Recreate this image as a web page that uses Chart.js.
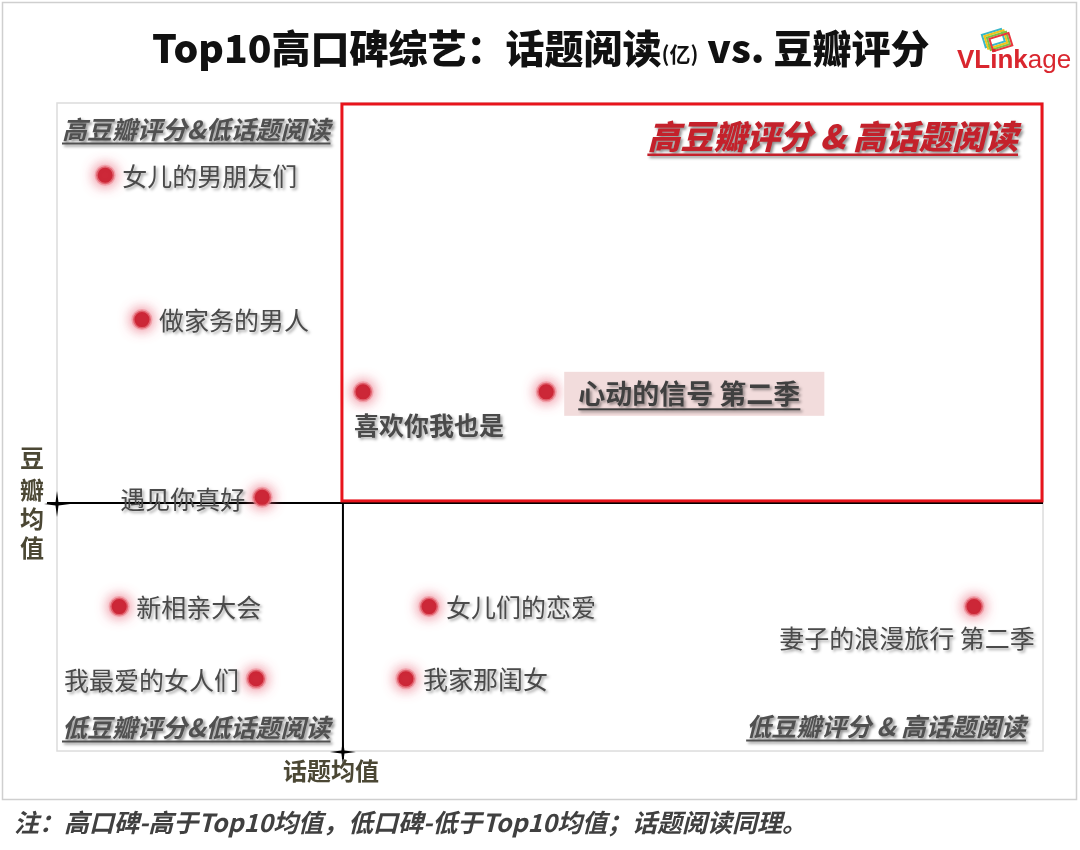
<!DOCTYPE html>
<html>
<head>
<meta charset="utf-8">
<script src="https://cdn.jsdelivr.net/npm/chart.js@4/dist/chart.umd.min.js"></script>
<style>
  html, body { margin: 0; padding: 0; background: #fff; }
  #wrap { width: 1080px; height: 850px; position: relative; }
</style>
</head>
<body>
<div id="wrap"><canvas id="c" width="1080" height="850"></canvas></div>
<script>
// Top10 高口碑综艺: 话题阅读(亿) vs 豆瓣评分
const shows = ["女儿的男朋友们", "做家务的男人", "喜欢你我也是", "心动的信号 第二季", "遇见你真好",
               "新相亲大会", "女儿们的恋爱", "妻子的浪漫旅行 第二季", "我最爱的女人们", "我家那闺女"]
const topicReads = [1.27, 2.24, 8.07, 12.9, 5.41, 1.64, 9.81, 24.18, 5.25, 9.2]   // 话题阅读(亿)
const doubanScores = [8.61, 7.83, 7.44, 7.44, 6.87, 6.28, 6.28, 6.28, 5.89, 5.89] // 豆瓣评分
const topicMean = 7.54
const doubanMean = 6.84

// where each name sits next to its dot
const labelPos = ["right", "right", "below", "boxed", "left", "right", "right", "below", "left", "right"]

const FONT = '"Noto Sans CJK SC", "Noto Sans", sans-serif'

function shadowOn(ctx, a) {
    ctx.shadowColor = "rgba(0,0,0," + (a || 0.4) + ")"
    ctx.shadowOffsetX = 2
    ctx.shadowOffsetY = 2
    ctx.shadowBlur = 3
}
function shadowOff(ctx) {
    ctx.shadowColor = "transparent"
    ctx.shadowOffsetX = 0
    ctx.shadowOffsetY = 0
    ctx.shadowBlur = 0
}

// text drawn on a middle baseline, underline just below the glyphs
function underlined(ctx, text, x, y, align, color, size, lw) {
    ctx.textAlign = align
    ctx.fillStyle = color
    ctx.fillText(text, x, y)
    const w = ctx.measureText(text).width
    const x0 = align === "right" ? x - w : x
    ctx.fillRect(x0, y + size * 0.5 + 1, w, lw || 2)
}

function star(ctx, cx, cy, r) {
    ctx.beginPath()
    ctx.moveTo(cx - r, cy)
    ctx.lineTo(cx - 1.5, cy - 1.5)
    ctx.lineTo(cx, cy - r)
    ctx.lineTo(cx + 1.5, cy - 1.5)
    ctx.lineTo(cx + r, cy)
    ctx.lineTo(cx + 1.5, cy + 1.5)
    ctx.lineTo(cx, cy + r)
    ctx.lineTo(cx - 1.5, cy + 1.5)
    ctx.closePath()
    ctx.fill()
}

const backdrop = {
    id: "backdrop",
    beforeDraw(chart) {
        const ctx = chart.ctx
        const a = chart.chartArea
        const sx = chart.scales.x, sy = chart.scales.y
        ctx.save()
        ctx.fillStyle = "#fff"
        ctx.fillRect(0, 0, chart.width, chart.height)
        ctx.strokeStyle = "#cfcfcf"
        ctx.lineWidth = 1.5
        ctx.strokeRect(2.5, 2.5, 1074, 797)
        ctx.strokeStyle = "#dcdcdc"
        ctx.lineWidth = 1.5
        ctx.strokeRect(a.left, a.top, a.right - a.left, a.bottom - a.top)

        const mx = sx.getPixelForValue(topicMean)
        const my = sy.getPixelForValue(doubanMean)

        // mean lines
        ctx.strokeStyle = "#000"
        ctx.lineWidth = 2
        ctx.beginPath()
        ctx.moveTo(a.left - 10, my)
        ctx.lineTo(a.right, my)
        ctx.moveTo(mx, my)
        ctx.lineTo(mx, a.bottom + 8)
        ctx.stroke()
        ctx.fillStyle = "#000"
        star(ctx, a.left, my + 1, 13)
        star(ctx, mx, a.bottom + 1, 13)

        // high / high quadrant frame
        ctx.strokeStyle = "#e8141c"
        ctx.lineWidth = 3
        ctx.strokeRect(mx - 1, a.top + 1, a.right - mx, my - a.top - 3)

        // quadrant captions
        ctx.textBaseline = "middle"
        shadowOn(ctx, 0.45)
        ctx.font = "italic bold 25px " + FONT
        underlined(ctx, "高豆瓣评分&低话题阅读", a.left + 5, 129, "left", "#505050", 25)
        underlined(ctx, "低豆瓣评分&低话题阅读", a.left + 5, 727, "left", "#505050", 25)
        underlined(ctx, "低豆瓣评分 & 高话题阅读", a.right - 17, 726, "right", "#505050", 25)
        ctx.font = "italic 900 33px " + FONT
        underlined(ctx, "高豆瓣评分 & 高话题阅读", a.right - 25, 136, "right", "#c4212b", 33, 2.5)
        shadowOff(ctx)

        // mean axis names
        ctx.font = "bold 24px " + FONT
        ctx.fillStyle = "#4b4734"
        ctx.textAlign = "center"
        const vt = "豆瓣均值"
        const ys = [458, 490, 519, 548]
        for (let i = 0; i < vt.length; i++) ctx.fillText(vt[i], 32, ys[i])
        ctx.textAlign = "left"
        ctx.fillText("话题均值", 283, 771)

        // title
        ctx.fillStyle = "#111"
        ctx.textAlign = "left"
        ctx.font = "900 39px " + FONT
        const t1 = "Top10高口碑综艺：话题阅读"
        const t2 = "(亿)"
        const t3 = " vs. 豆瓣评分"
        let x = 152
        ctx.fillText(t1, x, 48)
        x += ctx.measureText(t1).width
        ctx.font = "bold 21px " + FONT
        ctx.fillText(t2, x, 54)
        x += ctx.measureText(t2).width
        ctx.font = "900 39px " + FONT
        ctx.fillText(t3, x, 48)

        // logo
        ctx.save()
        ctx.translate(996, 40)
        ctx.rotate(-0.3)
        ctx.lineWidth = 2
        const cols = ["#39b7c9", "#f0c419", "#7cc242", "#e8373e"]
        cols.forEach((c, i) => {
            ctx.strokeStyle = c
            ctx.strokeRect(-12 + i * 2, -9 + i * 2, 20, 13)
        })
        ctx.restore()
        ctx.textBaseline = "alphabetic"
        ctx.fillStyle = "#d9262e"
        ctx.font = "bold 26px \"Liberation Sans\", Arial, sans-serif"
        ctx.fillText("VLink", 957, 68)
        const lw = ctx.measureText("VLink").width
        ctx.font = "26px \"Liberation Sans\", Arial, sans-serif"
        ctx.fillText("age", 957 + lw, 68)

        // footnote
        ctx.textBaseline = "middle"
        ctx.fillStyle = "#404040"
        ctx.font = "italic bold 25px " + FONT
        ctx.fillText("注：高口碑-高于Top10均值，低口碑-低于Top10均值；话题阅读同理。", 14, 822)
        ctx.restore()
    },
    beforeDatasetsDraw(chart) {
        const ctx = chart.ctx
        ctx.save()
        ctx.shadowColor = "rgba(232,90,110,0.95)"
        ctx.shadowBlur = 13
    },
    afterDatasetsDraw(chart) {
        const ctx = chart.ctx
        ctx.restore()
        const pts = chart.getDatasetMeta(0).data
        ctx.save()
        ctx.textBaseline = "middle"
        pts.forEach((p, i) => {
            const name = shows[i]
            const pos = labelPos[i]
            ctx.font = "25px " + FONT
            if (pos === "boxed") {
                ctx.font = "bold 27px " + FONT
                const w = ctx.measureText(name).width
                ctx.fillStyle = "#f2dcdc"
                ctx.fillRect(p.x + 18, p.y - 20, w + 38, 44)
                shadowOn(ctx, 0.4)
                underlined(ctx, name, p.x + 32, p.y + 2, "left", "#404040", 27, 2)
                shadowOff(ctx)
                return
            }
            shadowOn(ctx, 0.35)
            ctx.fillStyle = "#4a4a4a"
            if (pos === "right") {
                ctx.textAlign = "left"
                ctx.fillText(name, p.x + 17, p.y + 1)
            } else if (pos === "left") {
                ctx.textAlign = "right"
                ctx.fillText(name, p.x - 17, p.y + 2)
            } else if (i === 2) {
                ctx.font = "bold 25px " + FONT
                ctx.textAlign = "left"
                ctx.fillText(name, p.x - 9, p.y + 34)
            } else {
                ctx.textAlign = "center"
                ctx.fillText(name, p.x - 67, p.y + 32)
            }
            shadowOff(ctx)
        })
        ctx.restore()
    }
}

new Chart(document.getElementById("c"), {
    type: "scatter",
    data: {
        datasets: [{
            label: "综艺",
            data: topicReads.map((v, i) => ({ x: v, y: doubanScores[i] })),
            pointRadius: 9,
            pointHoverRadius: 9,
            backgroundColor: "#c8202f",
            borderColor: "rgba(238,140,150,0.6)",
            borderWidth: 3
        }]
    },
    options: {
        responsive: false,
        animation: false,
        layout: { padding: { left: 57, top: 103, right: 37, bottom: 99 } },
        scales: {
            x: { display: false, min: 0, max: 26 },
            y: { display: false, min: 5.5, max: 9 }
        },
        plugins: { legend: { display: false }, tooltip: { enabled: false } }
    },
    plugins: [backdrop]
})
</script>
</body>
</html>
